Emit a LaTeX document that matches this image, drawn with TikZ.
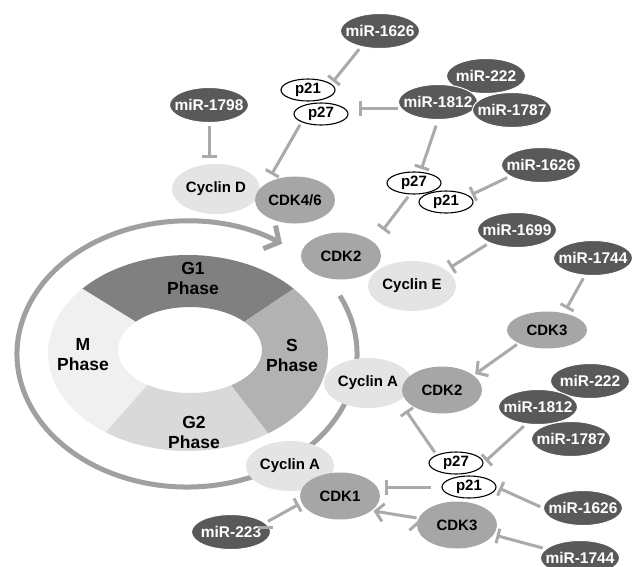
\documentclass[tikz,border=0pt]{standalone}
\usepackage{fontspec}
\setmainfont{Liberation Sans}
\usetikzlibrary{shapes.geometric, positioning, arrows.meta}

\definecolor{mirgray}{RGB}{89,89,89}
\definecolor{cdkgray}{RGB}{166,166,166}
\definecolor{cycgray}{RGB}{228,228,228}
\definecolor{linkgray}{RGB}{170,170,170}
\definecolor{arcgray}{RGB}{160,160,160}
\definecolor{g1col}{RGB}{128,128,128}
\definecolor{scol}{RGB}{178,178,178}
\definecolor{g2col}{RGB}{217,217,217}
\definecolor{mcol}{RGB}{240,240,240}

\begin{document}
\begin{tikzpicture}[x=1pt, y=-1pt, on grid,
    bub/.style={ellipse, inner sep=0pt, font=\bfseries\fontsize{15}{17}\selectfont,
      execute at begin node={\hbox to 0pt\bgroup\hss},
      execute at end node={\hss\egroup}},
    mir/.style={bub, fill=mirgray, draw=white, line width=1pt, text=white,
      minimum width=79pt, minimum height=35pt, font=\bfseries\fontsize{15.5}{17}\selectfont},
    cdk/.style={bub, fill=cdkgray, minimum width=80pt, minimum height=47pt},
    cyc/.style={bub, fill=cycgray, minimum width=88pt, minimum height=50pt},
    pp/.style={bub, fill=white, draw=black, line width=1.1pt, minimum width=54pt, minimum height=22pt},
    phase/.style={align=center, font=\bfseries\fontsize{17.5}{20}\selectfont},
    inh/.style={draw=linkgray, line width=3pt, -{Bar[width=15pt]}, shorten >=3pt, shorten <=3pt},
    act/.style={draw=linkgray, line width=3pt, -{Straight Barb[length=8pt,width=18pt]}, shorten >=2pt, shorten <=2pt}]
  \useasboundingbox (0,0) rectangle (632,566);

  % cell cycle ring
  \fill[g1col] ([shift={(188,353)}]-41:140 and 98) arc[start angle=-41, end angle=-139, x radius=140, y radius=98]
    -- ([shift={(190,350)}]-139:72 and 43) arc[start angle=-139, end angle=-41, x radius=72, y radius=43] -- cycle;
  \fill[mcol] ([shift={(188,353)}]-139:140 and 98) arc[start angle=-139, end angle=-234, x radius=140, y radius=98]
    -- ([shift={(190,350)}]-234:72 and 43) arc[start angle=-234, end angle=-139, x radius=72, y radius=43] -- cycle;
  \fill[g2col] ([shift={(188,353)}]-234:140 and 98) arc[start angle=-234, end angle=-305, x radius=140, y radius=98]
    -- ([shift={(190,350)}]-305:72 and 43) arc[start angle=-305, end angle=-234, x radius=72, y radius=43] -- cycle;
  \fill[scol] ([shift={(188,353)}]-305:140 and 98) arc[start angle=-305, end angle=-401, x radius=140, y radius=98]
    -- ([shift={(190,350)}]-401:72 and 43) arc[start angle=-401, end angle=-305, x radius=72, y radius=43] -- cycle;
  \node[phase] (g1) at (193,278) {G1\\Phase};
  \node[phase] (sph) at (292,355) {S\\Phase};
  \node[phase] (g2) at (194,432) {G2\\Phase};
  \node[phase] (mph) at (83,355) {M\\Phase};
  \draw[arcgray, line width=5pt, -{Straight Barb[length=11pt,width=26pt]}]
    ([shift={(187,354)}]-26:170 and 133) arc[start angle=-26, end angle=304, x radius=170, y radius=133];

  % microRNAs
  \node[mir] (mir_1) at (380,31) {miR-1626};
  \node[mir] (mir_2) at (209,105) {miR-1798};
  \node[mir] (mir_3) at (486,76) {miR-222};
  \node[mir] (mir_4) at (438,102) {miR-1812};
  \node[mir] (mir_5) at (512,110) {miR-1787};
  \node[mir] (mir_6) at (541,165) {miR-1626};
  \node[mir] (mir_7) at (517,230) {miR-1699};
  \node[mir] (mir_8) at (593,258) {miR-1744};
  \node[mir] (mir_9) at (590,381) {miR-222};
  \node[mir] (mir_10) at (538,407) {miR-1812};
  \node[mir] (mir_11) at (571,439) {miR-1787};
  \node[mir] (mir_12) at (583,508) {miR-1626};
  \node[mir] (mir_13) at (580,558) {miR-1744};
  \node[mir] (mir_14) at (231,532) {miR-223};

  % cyclins and CDKs
  \node[cyc] (cyc_1) at (216,189) {Cyclin D};
  \node[cdk] (cdk_1) at (295,200) {CDK4/6};
  \node[cdk] (cdk_2) at (341,256) {CDK2};
  \node[cyc] (cyc_2) at (412,286) {Cyclin E};
  \node[cdk, minimum height=37pt] (cdk_3) at (547,330) {CDK3};
  \node[cyc] (cyc_3) at (368,383) {Cyclin A};
  \node[cdk] (cdk_4) at (442,390) {CDK2};
  \node[cyc] (cyc_4) at (290,466) {Cyclin A};
  \node[cdk] (cdk_5) at (340,496) {CDK1};
  \node[cdk] (cdk_6) at (457,525) {CDK3};

  % p21 / p27
  \node[pp] (p21_1) at (308,90) {p21};
  \node[pp] (p27_1) [below right=24pt and 13pt of p21_1] {p27};
  \node[pp] (p27_2) at (414,183) {p27};
  \node[pp] (p21_2) [below right=19pt and 32pt of p27_2] {p21};
  \node[pp] (p27_3) at (456,463) {p27};
  \node[pp] (p21_3) [below right=24pt and 13pt of p27_3] {p21};

  \path[inh]
    (mir_1.220) edge (p21_1.15)
    (mir_2) edge[shorten >=6pt] (mir_2 |- cyc_1.north)
    (p27_1.south west) edge[shorten >=10pt] (cdk_1.north west)
    (mir_4.190) edge[shorten >=10pt] (mir_4.190 -| p27_1.east)
    (mir_4.south) edge[shorten <=6pt] (p27_2.60)
    (mir_6.200) edge (p21_2.15)
    (p27_2.250) edge (cdk_2.north -| cdk_2.east)
    (mir_7.205) edge[shorten >=5pt] (cyc_2.25)
    (mir_8.245) edge[shorten >=5pt] (cdk_3.45)
    (mir_10.235) edge (p27_3.east)
    (p27_3.north west) edge[shorten >=12pt] (cyc_3.south east)
    (p21_3.west) edge[shorten <=10pt, shorten >=5pt] (p21_3.west -| cdk_5.east)
    (mir_12.west) edge (p21_3.east)
    (mir_13.165) edge (cdk_6.-15)
    (mir_14.15) edge (cdk_5.190);
  \path[act]
    (cdk_3.205) edge (cdk_4.25)
    (cdk_6.170) edge (cdk_5.-25);
\end{tikzpicture}
\end{document}
